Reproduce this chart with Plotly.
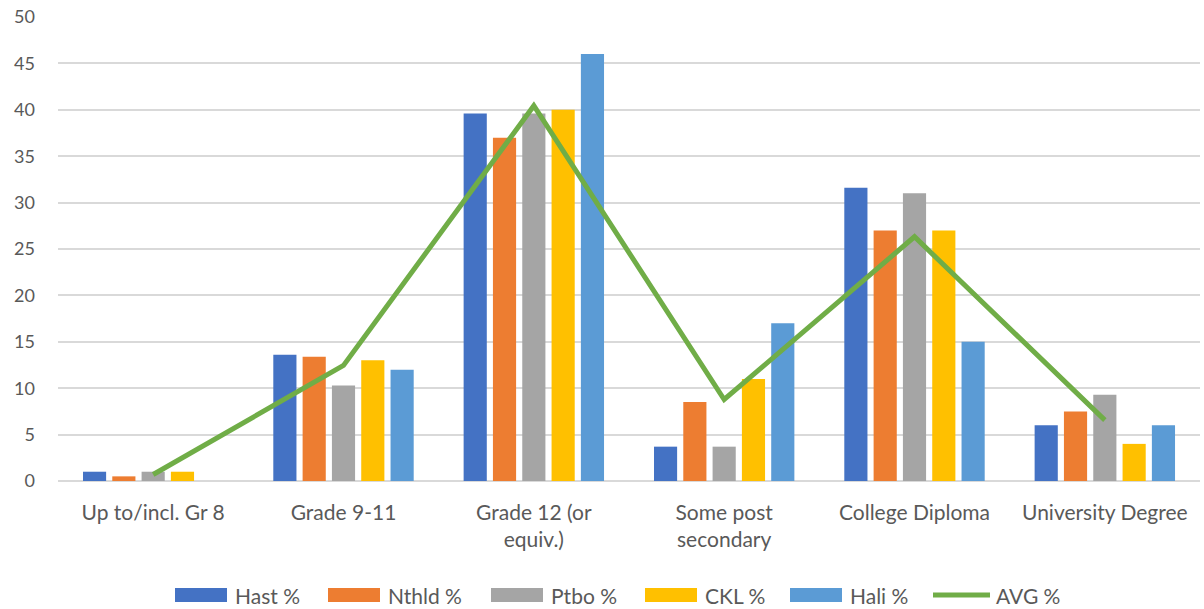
import plotly.graph_objects as go

categories = ["Up to/incl. Gr 8", "Grade 9-11", "Grade 12 (or<br>equiv.)",
              "Some post<br>secondary", "College Diploma", "University Degree"]
hast = [1.0, 13.6, 39.6, 3.7, 31.6, 6.0]
nthld = [0.5, 13.4, 37.0, 8.5, 27.0, 7.5]
ptbo = [1.0, 10.3, 39.6, 3.7, 31.0, 9.3]
ckl = [1.0, 13.0, 40.0, 11.0, 27.0, 4.0]
hali = [0.0, 12.0, 46.0, 17.0, 15.0, 6.0]
avg = [0.7, 12.46, 40.44, 8.78, 26.32, 6.56]

bar_series = [
    ("Hast %", hast, "#4472C4"),
    ("Nthld %", nthld, "#ED7D31"),
    ("Ptbo %", ptbo, "#A5A5A5"),
    ("CKL %", ckl, "#FFC000"),
    ("Hali %", hali, "#5B9BD5"),
]
avg_name, avg_color = "AVG %", "#70AD47"

W, H = 1204, 609
ML, MR, MT, MB = 58, 4, 17, 128
PW, PH = W - ML - MR, H - MT - MB

fig = go.Figure()
for name, vals, color in bar_series:
    fig.add_trace(go.Bar(x=categories, y=vals, name=name,
                         marker=dict(color=color, line=dict(width=0))))
fig.add_trace(go.Scatter(x=categories, y=avg, name=avg_name, mode="lines",
                         line=dict(color=avg_color, width=5)))

font = "Lato, 'Open Sans', sans-serif"
grey = "#595959"


def px_x(p):
    return (p - ML) / PW


def px_y(p):
    return (H - MB - p) / PH


# Legend drawn below the plot: wide colour keys followed by their labels
legend_left = [175, 328, 491, 645, 790, 933]
key_w, key_top, key_bot, text_gap = 52, 588, 602, 6
shapes, annotations = [], []
entries = [(n, c, "bar") for n, _, c in bar_series] + [(avg_name, avg_color, "line")]
for (name, color, kind), left in zip(entries, legend_left):
    if kind == "bar":
        shapes.append(dict(type="rect", xref="paper", yref="paper",
                           x0=px_x(left), x1=px_x(left + key_w),
                           y0=px_y(key_bot), y1=px_y(key_top),
                           fillcolor=color, line=dict(width=0)))
        tx = left + key_w + text_gap
    else:
        mid = (key_top + key_bot) / 2
        shapes.append(dict(type="line", xref="paper", yref="paper",
                           x0=px_x(left), x1=px_x(left + 57),
                           y0=px_y(mid), y1=px_y(mid),
                           line=dict(color=color, width=5)))
        tx = left + 57 + 4
    annotations.append(dict(text=name, xref="paper", yref="paper",
                            x=px_x(tx), y=px_y((key_top + key_bot) / 2),
                            xanchor="left", yanchor="middle", showarrow=False,
                            font=dict(family=font, size=21, color=grey)))

fig.update_layout(
    width=W, height=H,
    margin=dict(l=ML, r=MR, t=MT, b=MB),
    paper_bgcolor="white", plot_bgcolor="white",
    barmode="group", bargap=0.23, bargroupgap=0.21,
    font=dict(family=font, size=18, color=grey),
    showlegend=False,
    shapes=shapes, annotations=annotations,
)
fig.update_xaxes(showgrid=False, showline=False, ticks="",
                 ticklabelstandoff=17,
                 tickfont=dict(size=21, color=grey))
fig.update_yaxes(range=[0, 50], dtick=5, showgrid=True, gridcolor="#D9D9D9",
                 gridwidth=1.5, zeroline=True, zerolinecolor="#D9D9D9",
                 zerolinewidth=1.5, showline=False, ticks="",
                 ticklabelstandoff=22,
                 tickfont=dict(size=18, color=grey))

fig.write_html("out.html")
